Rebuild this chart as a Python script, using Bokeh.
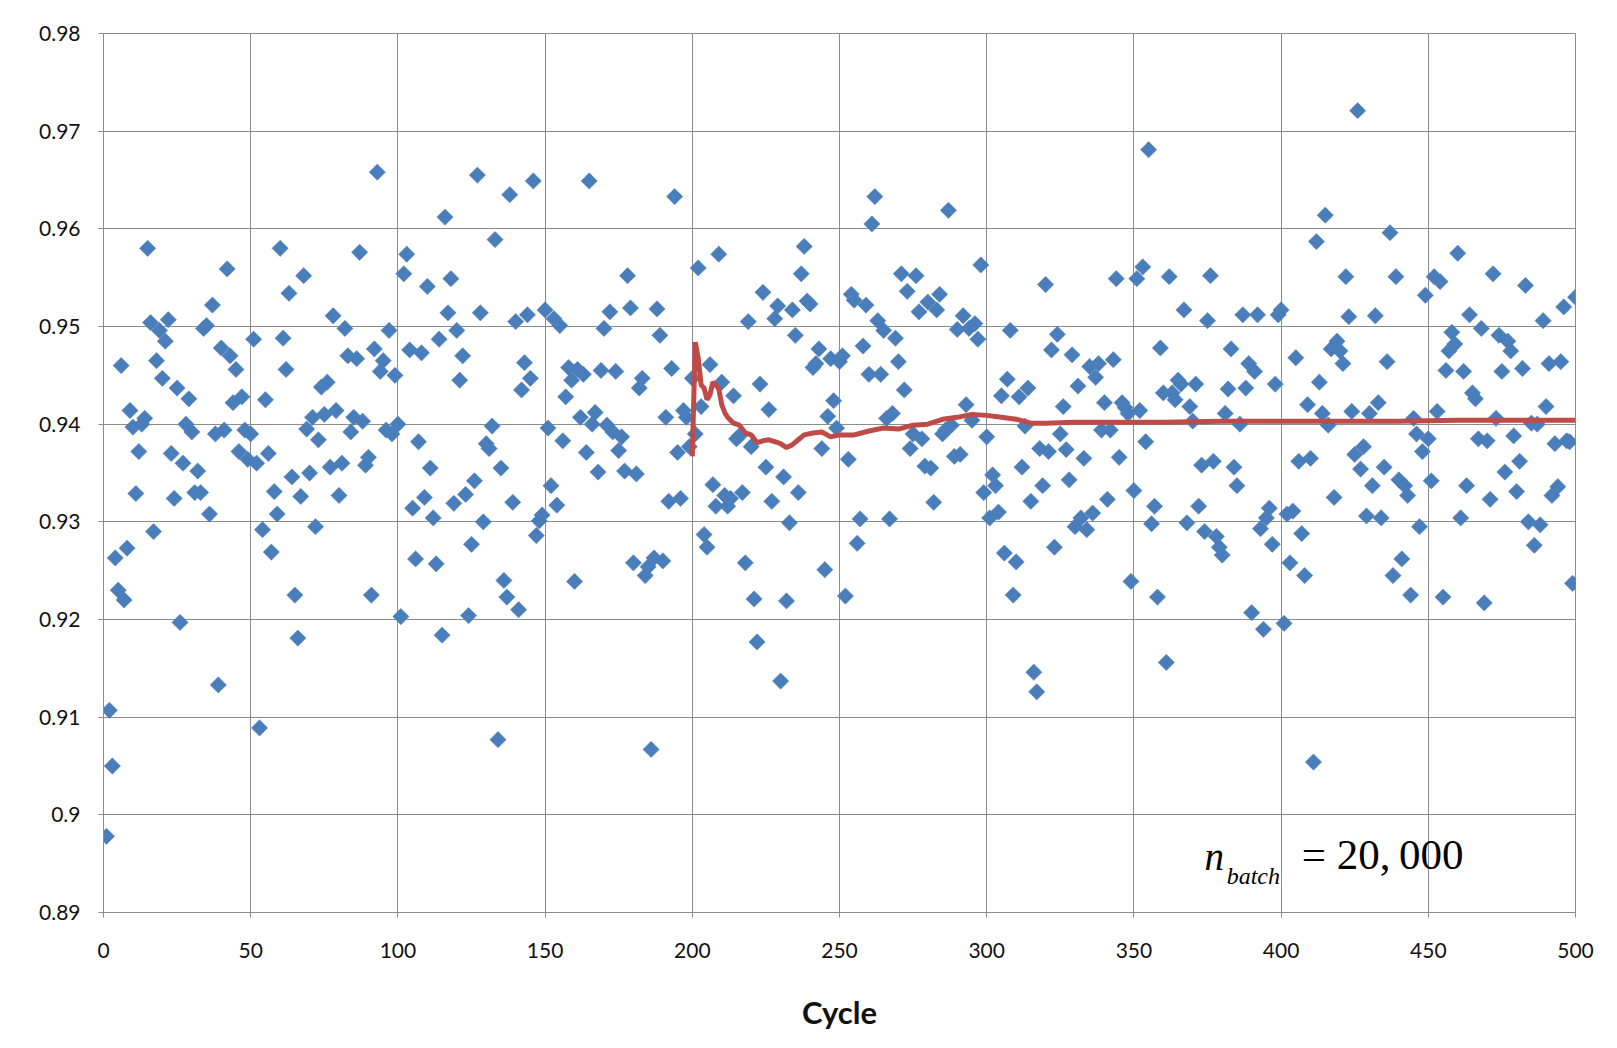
import numpy as np
from bokeh.plotting import figure
from bokeh.models import FixedTicker, CustomJSTickFormatter, Label, ColumnDataSource
from bokeh.embed import file_html
from bokeh.resources import INLINE

# k-eigenvalue estimate per cycle
keff = [
0.8978, 0.9107, 0.905, 0.9263, 0.923, 0.946, 0.922, 0.9273, 0.9414, 0.9397, 0.9329, 0.9372, 0.94, 0.9406, 0.958, 0.9504, 0.929, 0.9465, 0.9496, 0.9447, 0.9485, 0.9507, 0.937, 0.9324, 0.9437, 0.9197, 0.936, 0.94, 0.9426, 0.9392, 0.933, 0.9352, 0.933, 0.9498, 0.9501, 0.9308, 0.9522, 0.939, 0.9133, 0.9478, 0.9394, 0.9559, 0.947, 0.9422, 0.9456,
0.9372, 0.9428, 0.9394, 0.9364, 0.939, 0.9487, 0.936, 0.9089, 0.9292, 0.9425, 0.937, 0.9269, 0.9331, 0.9308, 0.958, 0.9488, 0.9456, 0.9534, 0.9346, 0.9225, 0.9181, 0.9326, 0.9552, 0.9395, 0.935, 0.9407, 0.9295, 0.9384, 0.9438, 0.941, 0.9443, 0.9356, 0.9511, 0.9414, 0.9327, 0.936, 0.9498, 0.947, 0.9392, 0.9407, 0.9467, 0.9576, 0.9403, 0.9358, 0.9366,
0.9225, 0.9477, 0.9658, 0.9454, 0.9465, 0.9394, 0.9496, 0.939, 0.945, 0.94, 0.9203, 0.9554, 0.9574, 0.9476, 0.9314, 0.9262, 0.9382, 0.9473, 0.9325, 0.9541, 0.9355, 0.9304, 0.9257, 0.9487, 0.9184, 0.9612, 0.9514, 0.9549, 0.9319, 0.9496, 0.9445, 0.947, 0.9328, 0.9204, 0.9277, 0.9342, 0.9655, 0.9514, 0.93, 0.938, 0.9375, 0.9398, 0.9589, 0.9077, 0.9355,
0.924, 0.9223, 0.9635, 0.932, 0.9505, 0.921, 0.9435, 0.9463, 0.9512, 0.9447, 0.9649, 0.9286, 0.9301, 0.9307, 0.9517, 0.9396, 0.9337, 0.9508, 0.9317, 0.9501, 0.9383, 0.9428, 0.9458, 0.9445, 0.9239, 0.9456, 0.9407, 0.9451, 0.9371, 0.9649, 0.94, 0.9412, 0.9351, 0.9455, 0.9498, 0.9399, 0.9515, 0.9392, 0.9454, 0.9373, 0.9387, 0.9352, 0.9552, 0.9519, 0.9258,
0.9349, 0.9437, 0.9447, 0.9245, 0.9254, 0.9067, 0.9263, 0.9518, 0.9491, 0.926, 0.9407, 0.9321, 0.9457, 0.9633, 0.9371, 0.9324, 0.9414, 0.9407, 0.9377, 0.9447,
0.939, 0.956, 0.9418, 0.9287, 0.9274, 0.9461, 0.9338, 0.9316, 0.9574, 0.9443, 0.9327, 0.9316, 0.9324, 0.9429, 0.9385, 0.9388, 0.933, 0.9258, 0.9505, 0.9377, 0.9221, 0.9177, 0.9441, 0.9535, 0.9356,
0.9415,
0.9321, 0.9508, 0.9521, 0.9137, 0.9346, 0.9219, 0.9299, 0.9517, 0.9491, 0.933, 0.9554, 0.9582, 0.9526, 0.9523, 0.9458, 0.9462, 0.9477, 0.9375, 0.9251, 0.9408, 0.9467, 0.9424, 0.9396, 0.9464, 0.947, 0.9224, 0.9364, 0.9533, 0.9527, 0.9278, 0.9303, 0.948, 0.9522, 0.9451, 0.9605, 0.9633, 0.9506, 0.9451, 0.9496, 0.9406, 0.9303, 0.9411, 0.9488, 0.9464, 0.9554,
0.9435,
0.9536, 0.9375, 0.939, 0.9552, 0.9515, 0.9385, 0.9357, 0.9525, 0.9355, 0.932, 0.9517, 0.9533, 0.939, 0.9394, 0.9619, 0.9399, 0.9367, 0.9497, 0.9369, 0.9511, 0.942, 0.9498, 0.9404, 0.9503, 0.9487, 0.9563, 0.933, 0.9387, 0.9304, 0.9348, 0.9337, 0.931, 0.9429, 0.9268, 0.9446, 0.9496, 0.9225, 0.9259, 0.9428, 0.9356, 0.9398, 0.9437, 0.9321, 0.9146, 0.9126,
0.9375,
0.9337, 0.9543, 0.9372, 0.9476, 0.9274, 0.9492, 0.939, 0.9418, 0.9374, 0.9343, 0.9471, 0.9295, 0.9439, 0.9304, 0.9365, 0.9292, 0.9459, 0.9309, 0.9448, 0.9462, 0.9394, 0.9422, 0.9323, 0.9394, 0.9466, 0.9549, 0.9366, 0.9422, 0.9417, 0.9411, 0.9239, 0.9332, 0.9549, 0.9414, 0.9561, 0.9382, 0.9681, 0.9298, 0.9316, 0.9223, 0.9478, 0.9432, 0.9156, 0.9551, 0.9432,
0.9425,
0.9445, 0.9441, 0.9517, 0.9299, 0.9418, 0.9403, 0.9441, 0.9316, 0.9358, 0.929, 0.9506, 0.9552, 0.9362, 0.9285, 0.9274, 0.9266, 0.9411, 0.9436, 0.9477, 0.9356, 0.9337, 0.94, 0.9512, 0.9437, 0.9462, 0.9207, 0.9454, 0.9512, 0.9293, 0.919, 0.9304, 0.9314, 0.9277, 0.9441, 0.9512, 0.9517, 0.9196, 0.9308, 0.9258, 0.9311, 0.9468, 0.9362, 0.9288, 0.9245, 0.942,
0.9365,
0.9054, 0.9587, 0.9443, 0.9411, 0.9614, 0.9399, 0.9477, 0.9325, 0.9485, 0.9475, 0.9462, 0.9551, 0.951, 0.9413, 0.9369, 0.9721, 0.9354, 0.9377, 0.9306, 0.9411, 0.9337, 0.9511, 0.9422, 0.9304, 0.9356, 0.9464, 0.9596, 0.9245, 0.9551, 0.9343, 0.9262, 0.9337, 0.9327, 0.9225, 0.9406, 0.939, 0.9295, 0.9372, 0.9532, 0.9385, 0.9342, 0.9551, 0.9413, 0.9546, 0.9223,
0.9455,
0.9475, 0.9494, 0.9482, 0.9575, 0.9304, 0.9454, 0.9337, 0.9512, 0.9432, 0.9426, 0.9385, 0.9498, 0.9217, 0.9383, 0.9323, 0.9554, 0.9406, 0.9491, 0.9454, 0.9351, 0.9485, 0.9475, 0.9388, 0.9331, 0.9362, 0.9457, 0.9542, 0.93, 0.9401, 0.9276, 0.94, 0.9297, 0.9506, 0.9418, 0.9462, 0.9327, 0.938, 0.9336, 0.9464, 0.952, 0.9383, 0.9382, 0.9237, 0.953,
]
cycles = list(range(1, len(keff) + 1))

# running average of active cycles
avg_cycle = [200, 201, 202, 203, 204, 205, 206, 207, 208, 209, 210, 211, 212, 213, 214, 216, 218, 220, 222, 224,
             226, 228, 230, 232, 234, 236, 238, 241, 244, 247, 250, 255, 260, 265, 270, 275, 280, 285, 290, 295,
             300, 305, 310, 315, 320, 330, 340, 360, 380, 400, 420, 440, 460, 480, 500]
avg_keff = [0.9367, 0.9484, 0.9468, 0.9440, 0.9437, 0.9425, 0.9430, 0.9443, 0.9440, 0.9436, 0.9420, 0.9412, 0.9407,
            0.9404, 0.9401, 0.9399, 0.9391, 0.9389, 0.9381, 0.9383, 0.9384, 0.9382, 0.9380, 0.9376, 0.9379, 0.9384,
            0.9389, 0.9391, 0.9392, 0.9387, 0.9389, 0.9389, 0.9393, 0.9396, 0.9395, 0.9399, 0.9400, 0.9405, 0.9407,
            0.9410, 0.9409, 0.9407, 0.9405, 0.9401, 0.9401, 0.9402, 0.9402, 0.9402, 0.9403, 0.9403, 0.9403, 0.9403,
            0.9404, 0.9404, 0.9404]

x_ticks = [0, 50, 100, 150, 200, 250, 300, 350, 400, 450, 500]
y_ticks = [0.89, 0.90, 0.91, 0.92, 0.93, 0.94, 0.95, 0.96, 0.97, 0.98]

p = figure(width=1617, height=1048, x_range=(0, 500), y_range=(0.89, 0.98),
           output_backend="svg", toolbar_location=None,
           min_border_left=103, min_border_right=42, min_border_top=33, min_border_bottom=136)
p.background_fill_color = "white"
p.border_fill_color = "white"
p.outline_line_color = "#8c8c8c"

src = ColumnDataSource(dict(x=cycles, y=keff))
p.scatter("x", "y", source=src, marker="square", angle=np.pi / 4, size=11.5,
          fill_color="#4A7EBB", line_color="#4A7EBB", line_width=0.5)
p.line(avg_cycle, avg_keff, line_color="#BE4B48", line_width=5)

p.xaxis.ticker = FixedTicker(ticks=x_ticks)
p.yaxis.ticker = FixedTicker(ticks=y_ticks)
p.yaxis.formatter = CustomJSTickFormatter(code="return parseFloat(tick.toFixed(2)).toString();")

for ax in (p.xaxis, p.yaxis):
    ax.axis_line_color = "#8c8c8c"
    ax.major_tick_line_color = "#8c8c8c"
    ax.major_tick_out = 5
    ax.major_tick_in = 0
    ax.minor_tick_line_color = None
    ax.major_label_text_font = "Lato"
    ax.major_label_text_font_size = "21px"
    ax.major_label_text_color = "#111111"
p.xaxis.major_label_standoff = 25
p.yaxis.major_label_standoff = 18
p.xaxis.axis_label = "Cycle"
p.xaxis.axis_label_text_font = "Lato"
p.xaxis.axis_label_text_font_style = "bold"
p.xaxis.axis_label_text_font_size = "31px"
p.xaxis.axis_label_text_color = "#111111"
p.xaxis.axis_label_standoff = 32

p.grid.grid_line_color = "#8c8c8c"
p.grid.grid_line_width = 1

p.add_layout(Label(x=374, y=0.8935, text="n", text_font="Liberation Serif", text_font_style="italic",
                   text_font_size="39px", text_color="black"))
p.add_layout(Label(x=381.5, y=0.8924, text="batch", text_font="Liberation Serif", text_font_style="italic",
                   text_font_size="24px", text_color="black"))
p.add_layout(Label(x=407, y=0.8935, text="= 20,\u2009000", text_font="Liberation Serif",
                   text_font_size="43px", text_color="black"))

open("out.html", "w").write(file_html(p, INLINE))
